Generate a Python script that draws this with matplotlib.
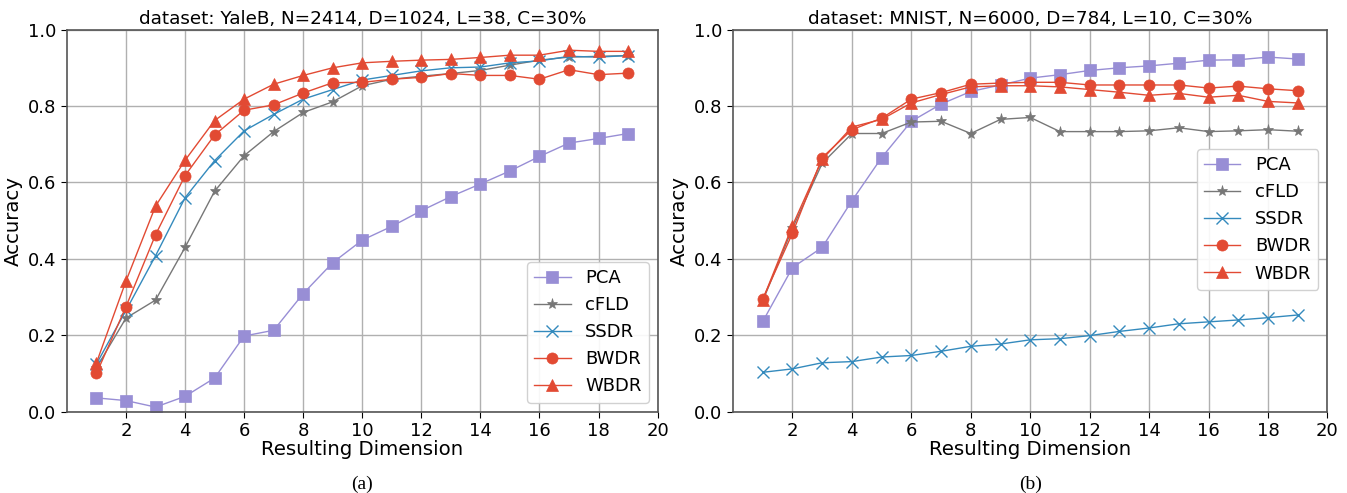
import matplotlib
matplotlib.use("Agg")
import matplotlib.pyplot as plt

# resulting dimension (x axis)
dims = list(range(1, 20))

# YaleB
yale_pca  = [0.036, 0.029, 0.012, 0.040, 0.088, 0.198, 0.213, 0.309, 0.390, 0.449,
             0.485, 0.526, 0.563, 0.596, 0.630, 0.668, 0.703, 0.715, 0.728]
yale_cfld = [0.115, 0.245, 0.292, 0.430, 0.577, 0.670, 0.733, 0.783, 0.811, 0.853,
             0.870, 0.878, 0.885, 0.893, 0.907, 0.920, 0.928, 0.930, 0.932]
yale_ssdr = [0.125, 0.265, 0.408, 0.560, 0.657, 0.735, 0.778, 0.818, 0.843, 0.868,
             0.880, 0.892, 0.900, 0.902, 0.913, 0.918, 0.930, 0.928, 0.932]
yale_bwdr = [0.100, 0.275, 0.463, 0.618, 0.724, 0.789, 0.803, 0.834, 0.861, 0.862,
             0.870, 0.875, 0.885, 0.880, 0.880, 0.870, 0.895, 0.882, 0.886]
yale_wbdr = [0.128, 0.342, 0.538, 0.658, 0.762, 0.818, 0.857, 0.880, 0.900, 0.913,
             0.917, 0.920, 0.922, 0.927, 0.933, 0.933, 0.946, 0.943, 0.943]

# MNIST
mnist_pca  = [0.236, 0.377, 0.430, 0.552, 0.665, 0.760, 0.805, 0.838, 0.855, 0.873,
              0.882, 0.893, 0.900, 0.905, 0.912, 0.920, 0.921, 0.928, 0.923]
mnist_cfld = [0.290, 0.480, 0.650, 0.728, 0.728, 0.758, 0.760, 0.728, 0.765, 0.770,
              0.733, 0.733, 0.733, 0.735, 0.743, 0.733, 0.735, 0.738, 0.734]
mnist_ssdr = [0.103, 0.112, 0.128, 0.131, 0.143, 0.147, 0.158, 0.171, 0.177, 0.188,
              0.191, 0.199, 0.210, 0.219, 0.230, 0.235, 0.240, 0.246, 0.253]
mnist_bwdr = [0.295, 0.467, 0.665, 0.738, 0.768, 0.818, 0.835, 0.857, 0.860, 0.862,
              0.862, 0.855, 0.855, 0.855, 0.855, 0.847, 0.852, 0.845, 0.840]
mnist_wbdr = [0.293, 0.487, 0.660, 0.745, 0.765, 0.808, 0.830, 0.850, 0.853, 0.853,
              0.850, 0.843, 0.836, 0.828, 0.833, 0.823, 0.828, 0.812, 0.808]

titles = ["dataset: YaleB, N=2414, D=1024, L=38, C=30%",
          "dataset: MNIST, N=6000, D=784, L=10, C=30%"]
captions = ["(a)", "(b)"]
names = ["PCA", "cFLD", "SSDR", "BWDR", "WBDR"]
estilos = [("#988ED5", "s", 8), ("#777777", "*", 8), ("#348ABD", "x", 9),
           ("#E24A33", "o", 8), ("#E24A33", "^", 8)]

datos = [[yale_pca, yale_cfld, yale_ssdr, yale_bwdr, yale_wbdr],
         [mnist_pca, mnist_cfld, mnist_ssdr, mnist_bwdr, mnist_wbdr]]
leg_loc = [dict(loc="lower right"), dict(loc="center right", bbox_to_anchor=(1.0, 0.503))]

fig = plt.figure(figsize=(13.47, 4.93), dpi=100)
ejes = [fig.add_axes([0.0497, 0.165, 0.4385, 0.775]),
        fig.add_axes([0.5442, 0.165, 0.4413, 0.775])]

for i, ax in enumerate(ejes):
    for serie, nombre, (c, m, ms) in zip(datos[i], names, estilos):
        ax.plot(dims, serie, color=c, marker=m, markersize=ms, lw=1, label=nombre,
                markeredgewidth=1 if m == "x" else 0.5)
    ax.set_xlim(0, 20)
    ax.set_ylim(0, 1.0)
    ax.set_xticks(range(2, 21, 2))
    ax.set_yticks([0.0, 0.2, 0.4, 0.6, 0.8, 1.0])
    ax.grid(True, color="#b0b0b0", lw=1)
    ax.set_axisbelow(True)
    for s in ax.spines.values():
        s.set_color("#555555")
        s.set_linewidth(1.2)
    ax.tick_params(labelsize=13, length=4)
    ax.set_xlabel("Resulting Dimension", fontsize=14.2, labelpad=0)
    ax.set_ylabel("Accuracy", fontsize=14.2)
    ax.set_title(titles[i], fontsize=13.2, pad=4)
    ax.legend(fontsize=13, framealpha=0.9, **leg_loc[i])
    fig.text((ax.get_position().x0 + ax.get_position().x1) / 2, 0.017, captions[i],
             ha="center", va="center", family="Liberation Serif", fontsize=14)

fig.savefig("out.png", dpi=100)
